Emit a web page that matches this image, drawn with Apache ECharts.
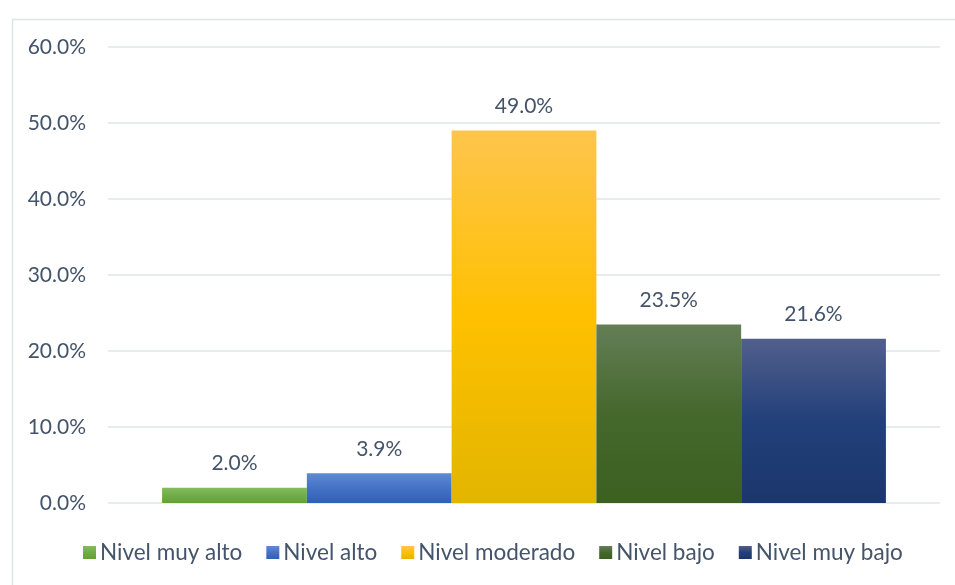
<!DOCTYPE html>
<html>
<head>
<meta charset="utf-8">
<script src="https://cdn.jsdelivr.net/npm/echarts@6/dist/echarts.min.js"></script>
<style>
    html, body { margin: 0; padding: 0; background: #fff; }
    #chart { width: 955px; height: 585px; }
</style>
</head>
<body>
<div id="chart"></div>
<script>
const seriesNames = ["Nivel muy alto", "Nivel alto", "Nivel moderado", "Nivel bajo", "Nivel muy bajo"]
const values = [2.0, 3.9, 49.0, 23.5, 21.6]
const yTicks = [0, 10, 20, 30, 40, 50, 60]
// top, middle, bottom colours of each bar gradient
const gradients = [
    ["#84bb62", "#70ad47", "#62a232"],
    ["#6089d2", "#4472c4", "#2f5fb8"],
    ["#fec54d", "#ffc000", "#e2b500"],
    ["#647e57", "#45682c", "#3b6020"],
    ["#525f8c", "#22407a", "#1b366c"]
]

const textColor = "#44546a"
const font = "Lato"

const myChart = echarts.init(document.getElementById("chart"))

const grad = (c) => new echarts.graphic.LinearGradient(0, 0, 0, 1, [
    { offset: 0, color: c[0] },
    { offset: 0.5, color: c[1] },
    { offset: 1, color: c[2] }
])

myChart.setOption({
    animation: false,
    graphic: [
        {
            type: "rect",
            left: 10,
            top: 17,
            shape: { width: 980, height: 600 },
            style: { fill: "none", stroke: "#dfe3e8", lineWidth: 1.5 },
            silent: true
        }
    ],
    legend: {
        bottom: 16,
        left: 78,
        itemWidth: 13,
        itemHeight: 13,
        itemGap: 24,
        icon: "rect",
        textStyle: { color: textColor, fontSize: 22.5, fontFamily: font, padding: [0, 0, 0, -1] },
        data: seriesNames
    },
    grid: {
        left: 108,
        right: 15,
        top: 47,
        bottom: 82
    },
    xAxis: {
        type: "category",
        data: [""],
        axisLine: { show: false },
        axisTick: { show: false },
        axisLabel: { show: false }
    },
    yAxis: {
        type: "value",
        min: yTicks[0],
        max: yTicks[yTicks.length - 1],
        interval: 10,
        axisLine: { show: false },
        axisTick: { show: false },
        axisLabel: {
            color: textColor,
            fontSize: 21,
            fontFamily: font,
            margin: 22,
            formatter: (v) => v.toFixed(1) + "%"
        },
        splitLine: { lineStyle: { color: "#e1e4e9", width: 1.5 } }
    },
    series: seriesNames.map((name, i) => ({
        name: name,
        type: "bar",
        data: [values[i]],
        barGap: "0%",
        barCategoryGap: "13%",
        itemStyle: { color: grad(gradients[i]) },
        label: {
            show: true,
            position: "top",
            distance: 14,
            color: textColor,
            fontSize: 21,
            fontFamily: font,
            formatter: (p) => p.value.toFixed(1) + "%"
        }
    }))
})
</script>
</body>
</html>
